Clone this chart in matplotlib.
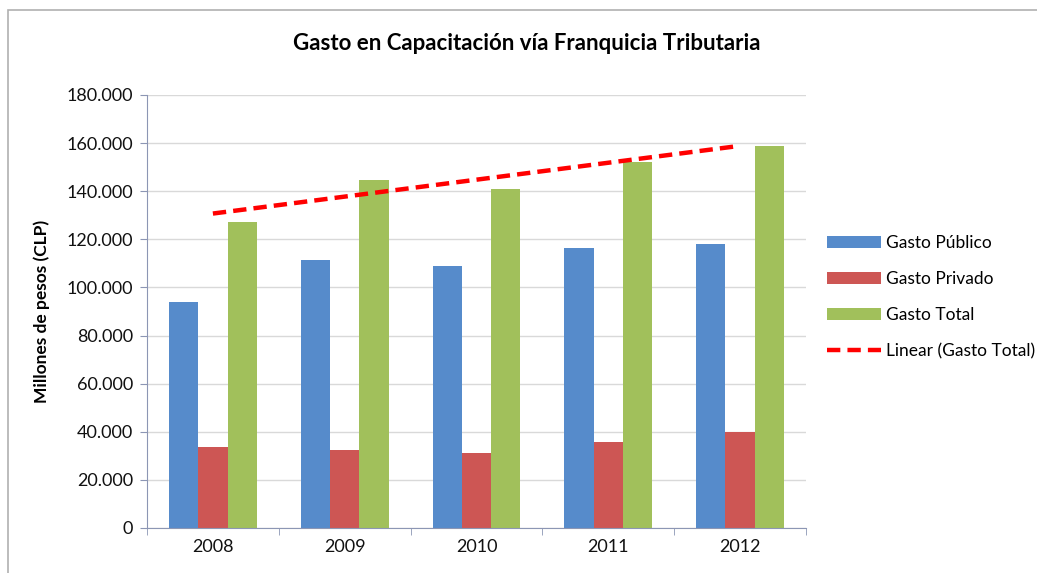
import matplotlib
matplotlib.use("Agg")
import matplotlib.pyplot as plt
import numpy as np
from matplotlib.ticker import FuncFormatter, FixedLocator
from matplotlib.patches import Rectangle

years = ["2008", "2009", "2010", "2011", "2012"]
gasto_publico = [94000, 111500, 109000, 116400, 118200]
gasto_privado = [33600, 32400, 31300, 35600, 40000]
gasto_total = [127400, 144700, 140800, 152300, 158800]
series_names = ["Gasto Público", "Gasto Privado", "Gasto Total"]
trend_name = "Linear (Gasto Total)"
colors = ["#568BCB", "#CD5654", "#A1C05B"]

plt.rcParams['font.family'] = ['Lato', 'DejaVu Sans']

W, H = 1037, 573
fig = plt.figure(figsize=(W / 100, H / 100), dpi=100)
ax = fig.add_axes([147 / W, 1 - 528 / H, (806 - 147) / W, (528 - 95) / H])

x = np.arange(len(years))
bw = 1 / 4.5
handles = []
for i, (vals, c, name) in enumerate(zip([gasto_publico, gasto_privado, gasto_total], colors, series_names)):
    b = ax.bar(x + (i - 1) * bw, vals, width=bw, color=c, label=name, zorder=2)
    handles.append(b)

coef = np.polyfit(x, gasto_total, 1)
ln, = ax.plot(x, np.polyval(coef, x), color="#FF0000", linestyle=(0, (3, 1.6)), linewidth=3.2,
              label=trend_name, zorder=3)
handles.append(ln)

ax.set_xlim(-0.5, len(years) - 0.5)
ax.set_ylim(0, 180000)
ax.yaxis.set_major_locator(FixedLocator(np.arange(0, 180001, 20000)))
ax.yaxis.set_major_formatter(FuncFormatter(lambda v, p: "0" if v == 0 else f"{int(v):,}".replace(",", ".")))
ax.set_xticks(x)
ax.set_xticklabels(years)
ax.set_xticks(np.arange(-0.5, len(years), 1), minor=True)
ax.tick_params(axis="x", which="major", length=0, labelsize=13, pad=8, labelcolor="#111111")
ax.tick_params(axis="x", which="minor", length=5, color="#8C96B4")
ax.tick_params(axis="y", which="major", length=5, color="#8C96B4", labelsize=13, pad=5, labelcolor="#111111")
ax.grid(axis="y", color="#D9D9D9", linewidth=1, zorder=0)
ax.set_axisbelow(True)
for s in ["top", "right"]:
    ax.spines[s].set_visible(False)
for s in ["left", "bottom"]:
    ax.spines[s].set_color("#8C96B4")

ax.set_ylabel("Millones de pesos (CLP)", fontsize=12.5, fontweight="bold", labelpad=12)
fig.text(527 / W, 1 - 43 / H, "Gasto en Capacitación vía Franquicia Tributaria",
         ha="center", va="center", fontsize=16, fontweight="bold")

leg = ax.legend(handles=handles, labels=series_names + [trend_name],
                loc="upper left", bbox_to_anchor=(820 / W, 1 - 228 / H), bbox_transform=fig.transFigure,
                frameon=False, fontsize=12.5, handlelength=3.1, handleheight=0.7,
                labelspacing=1.15, handletextpad=0.3, borderaxespad=0)

fig.patches.append(Rectangle((8 / W, -0.1), 1.2, 1 - 10 / H + 0.1, transform=fig.transFigure,
                             fill=False, edgecolor="#B0B0B0", linewidth=1.2, zorder=0))

fig.savefig("out.png", dpi=100)
